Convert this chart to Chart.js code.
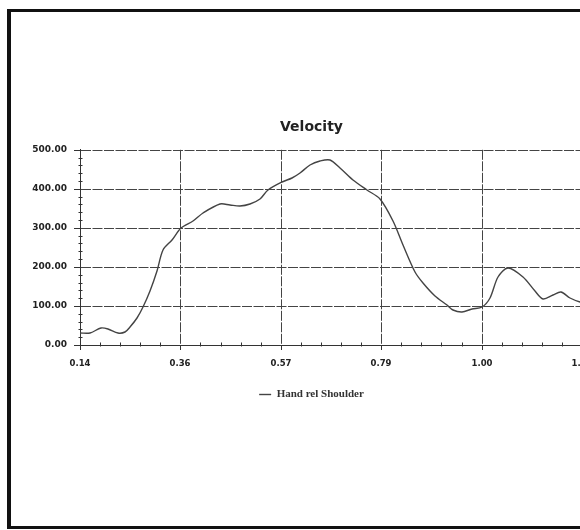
<!DOCTYPE html>
<html>
<head>
<meta charset="utf-8">
<script src="https://cdn.jsdelivr.net/npm/chart.js@4/dist/chart.umd.min.js"></script>
<style>
  html, body { margin: 0; padding: 0; background: #fff; }
  body { width: 580px; height: 530px; overflow: hidden; position: relative; }
  #frame {
    position: absolute; left: 7px; top: 9px; width: 700px; height: 520px;
    box-sizing: border-box; border: 3px solid #111; border-left-width: 4px;
  }
  #wrap { position: absolute; left: 0; top: 0; width: 640px; height: 410px; }
</style>
</head>
<body>
<div id="frame"></div>
<div id="wrap"><canvas id="c" width="640" height="410"></canvas></div>
<script>
// Velocity of the hand relative to the shoulder
const xValues = [0.140, 0.161, 0.186, 0.200, 0.221, 0.236, 0.247, 0.261, 0.275, 0.290,
                 0.304, 0.318, 0.336, 0.356, 0.382, 0.403, 0.440, 0.461, 0.483, 0.504,
                 0.525, 0.543, 0.572, 0.593, 0.611, 0.632, 0.654, 0.675, 0.697, 0.725,
                 0.754, 0.782, 0.811, 0.832, 0.857, 0.875, 0.900, 0.925, 0.939, 0.957,
                 0.979, 1.000, 1.018, 1.036, 1.057, 1.089, 1.114, 1.132, 1.153, 1.171,
                 1.189, 1.211, 1.230];
const velocity = [31, 31, 43, 42, 31, 34, 46, 68, 98, 138,
                  190, 243, 269, 300, 318, 339, 361, 359, 355, 361,
                  375, 396, 418, 427, 440, 462, 471, 474, 453, 423,
                  396, 375, 318, 256, 186, 160, 125, 103, 89, 85,
                  92, 98, 120, 173, 197, 173, 138, 118, 129, 136,
                  120, 109, 104];
const xTickValues = [0.14, 0.355, 0.57, 0.785, 1.00, 1.215];
const xTickLabels = ['0.14', '0.36', '0.57', '0.79', '1.00', '1.22'];
const yTickValues = [0, 100, 200, 300, 400, 500];
const seriesName = 'Hand rel Shoulder';
const chartTitle = 'Velocity';

const points = xValues.map((x, i) => ({ x, y: velocity[i] }));

// small tick marks between the labelled ticks
const minorTicks = {
  id: 'minorTicks',
  afterDraw(chart) {
    const { ctx, scales: { x, y } } = chart;
    ctx.save();
    ctx.strokeStyle = '#333';
    ctx.lineWidth = 1;
    ctx.beginPath();
    const yb = Math.round(y.getPixelForValue(0)) + 0.5;
    for (let i = 0; i < xTickValues.length - 1; i++) {
      const step = (xTickValues[i + 1] - xTickValues[i]) / 5;
      for (let k = 1; k < 5; k++) {
        const px = Math.round(x.getPixelForValue(xTickValues[i] + k * step)) + 0.5;
        ctx.moveTo(px, yb - 3);
        ctx.lineTo(px, yb + 1);
      }
    }
    const xl = Math.round(x.getPixelForValue(xTickValues[0])) + 0.5;
    for (let i = 0; i < yTickValues.length - 1; i++) {
      const step = (yTickValues[i + 1] - yTickValues[i]) / 5;
      for (let k = 1; k < 5; k++) {
        const py = Math.round(y.getPixelForValue(yTickValues[i] + k * step)) + 0.5;
        ctx.moveTo(xl - 2, py);
        ctx.lineTo(xl + 2, py);
      }
    }
    ctx.stroke();
    ctx.restore();
  }
};

new Chart(document.getElementById('c'), {
  type: 'line',
  data: {
    datasets: [{
      label: seriesName,
      data: points,
      borderColor: '#444',
      backgroundColor: '#444',
      borderWidth: 1.4,
      pointRadius: 0,
      pointStyle: 'line',
      tension: 0.3,
      fill: false
    }]
  },
  options: {
    responsive: false,
    animation: false,
    events: [],
    layout: { padding: { left: 0, right: 17, top: 0, bottom: 0 } },
    plugins: {
      title: {
        display: true,
        text: chartTitle,
        color: '#222',
        font: { family: 'DejaVu Sans', size: 14, weight: 'bold', lineHeight: 1.2 },
        padding: { top: 119, bottom: 14 }
      },
      legend: {
        display: true,
        position: 'bottom',
        labels: {
          usePointStyle: true,
          pointStyle: 'line',
          pointStyleWidth: 12,
          color: '#333',
          font: { family: 'Liberation Serif', size: 11, weight: 'bold' },
          padding: 14
        }
      },
      tooltip: { enabled: false }
    },
    scales: {
      x: {
        type: 'linear',
        min: 0.14,
        max: 1.3028,
        alignToPixels: true,
        afterBuildTicks(scale) { scale.ticks = xTickValues.map(v => ({ value: v })); },
        afterFit(scale) { scale.height = 30; },
        ticks: {
          callback: (v, i) => xTickLabels[i],
          color: '#222',
          font: { family: 'DejaVu Sans', size: 8.5, weight: 'bold' },
          padding: 9,
          maxRotation: 0,
          autoSkip: false
        },
        grid: {
          color: '#444',
          lineWidth: 1,
          drawTicks: true,
          tickLength: 5,
          tickColor: '#333',
          tickBorderDash: []
        },
        border: { display: true, color: '#333', width: 1, dash: [10, 1.5] }
      },
      y: {
        min: 0,
        max: 500,
        alignToPixels: true,
        afterBuildTicks(scale) { scale.ticks = yTickValues.map(v => ({ value: v })); },
        afterFit(scale) { scale.width = 80; },
        ticks: {
          callback: v => v.toFixed(2),
          color: '#222',
          font: { family: 'DejaVu Sans', size: 9, weight: 'bold' },
          padding: 7
        },
        grid: {
          color: '#444',
          lineWidth: 1,
          drawTicks: true,
          tickLength: 6,
          tickColor: '#333',
          tickBorderDash: []
        },
        border: { display: true, color: '#333', width: 1, dash: [10, 1.5] }
      }
    }
  },
  plugins: [minorTicks]
});
</script>
</body>
</html>
